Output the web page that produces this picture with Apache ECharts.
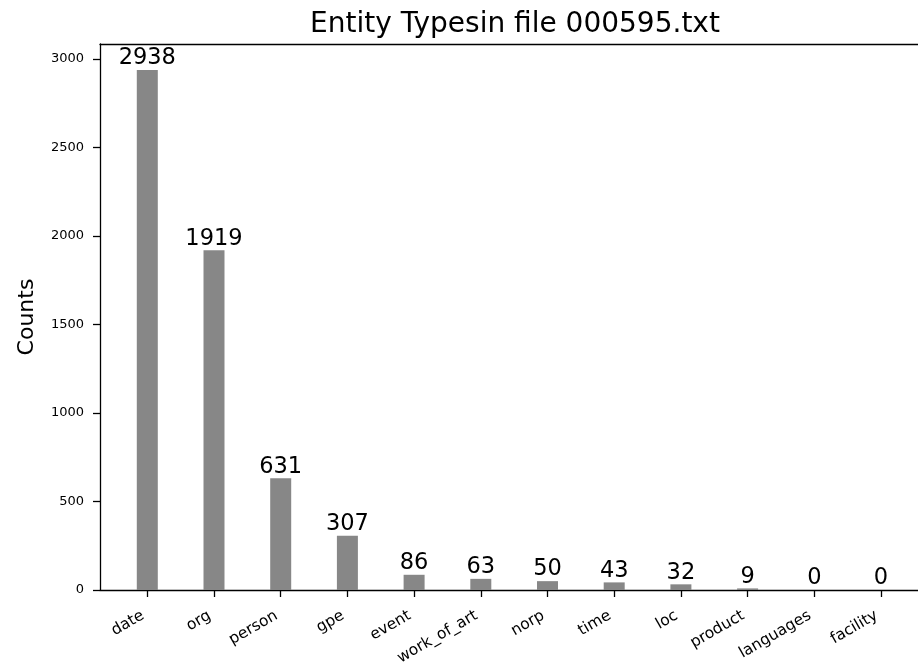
<!DOCTYPE html>
<html>
<head>
<meta charset="utf-8">
<title>Entity Types</title>
<script src="https://cdn.jsdelivr.net/npm/echarts@6/dist/echarts.min.js"></script>
<style>
  html, body { margin: 0; padding: 0; background: #fff; }
  #chart { width: 918px; height: 669px; }
</style>
</head>
<body>
<div id="chart"></div>
<script>
// Entity type counts for file 000595.txt
const categories = ['date', 'org', 'person', 'gpe', 'event', 'work_of_art',
                    'norp', 'time', 'loc', 'product', 'languages', 'facility'];
const counts = [2938, 1919, 631, 307, 86, 63, 50, 43, 32, 9, 0, 0];
const yTicks = [0, 500, 1000, 1500, 2000, 2500, 3000];

const FONT = 'DejaVu Sans';
const yMax = Math.max(...counts) * 1.05;   // 5% headroom above the tallest bar

const chart = echarts.init(document.getElementById('chart'), null, { renderer: 'canvas' });

const spine = { show: true, lineStyle: { color: '#000', width: 1.3 } };

chart.setOption({
  animation: false,
  backgroundColor: '#ffffff',
  title: {
    text: 'Entity Typesin file 000595.txt',
    left: 515,
    top: 11,
    padding: 0,
    textAlign: 'center',
    textStyle: { fontFamily: FONT, fontSize: 28, fontWeight: 'normal', color: '#000' }
  },
  grid: [
    // frame: axes box with the y scale (runs past the right edge of the page)
    { left: 100, top: 44, width: 830, height: 546, outerBoundsMode: 'none' },
    // bars: category bands
    { left: 113.95, top: 44, width: 800.4, height: 546, outerBoundsMode: 'none' }
  ],
  xAxis: [
    // bottom and top spines of the frame
    { gridIndex: 0, type: 'value', min: 0, max: 1, position: 'bottom',
      axisLine: spine, axisTick: { show: false }, axisLabel: { show: false },
      splitLine: { show: false } },
    { gridIndex: 0, type: 'value', min: 0, max: 1, position: 'top',
      axisLine: spine, axisTick: { show: false }, axisLabel: { show: false },
      splitLine: { show: false } },
    {
      gridIndex: 1,
      type: 'category',
      data: categories,
      axisLine: { show: false },
      axisTick: { show: true, alignWithLabel: true, length: 7,
                  lineStyle: { color: '#000', width: 1.3 } },
      axisLabel: { rotate: 30, fontFamily: FONT, fontSize: 15.5, color: '#000',
                   margin: 22, padding: [0, 5, 0, 0], interval: 0 },
      splitLine: { show: false }
    }
  ],
  yAxis: [
    {
      gridIndex: 0,
      type: 'value',
      min: 0,
      max: yMax,
      interval: 500,
      name: 'Counts',
      nameLocation: 'middle',
      nameGap: 62,
      nameTextStyle: { fontFamily: FONT, fontSize: 22, color: '#000' },
      axisLine: spine,
      axisTick: { show: true, length: 7, lineStyle: { color: '#000', width: 1.3 } },
      axisLabel: {
        fontFamily: FONT, fontSize: 13, color: '#000', margin: 16,
        showMaxLabel: false,
        formatter: v => (yTicks.indexOf(v) >= 0 ? String(v) : '')
      },
      splitLine: { show: false }
    },
    { gridIndex: 1, type: 'value', min: 0, max: yMax, show: false }
  ],
  series: [
    {
      type: 'bar',
      xAxisIndex: 2,
      yAxisIndex: 1,
      data: counts,
      barWidth: 21,
      itemStyle: { color: '#878787' },
      label: {
        show: true,
        position: 'top',
        distance: 0,
        fontFamily: FONT,
        fontSize: 22.5,
        color: '#000'
      }
    }
  ]
});
</script>
</body>
</html>
